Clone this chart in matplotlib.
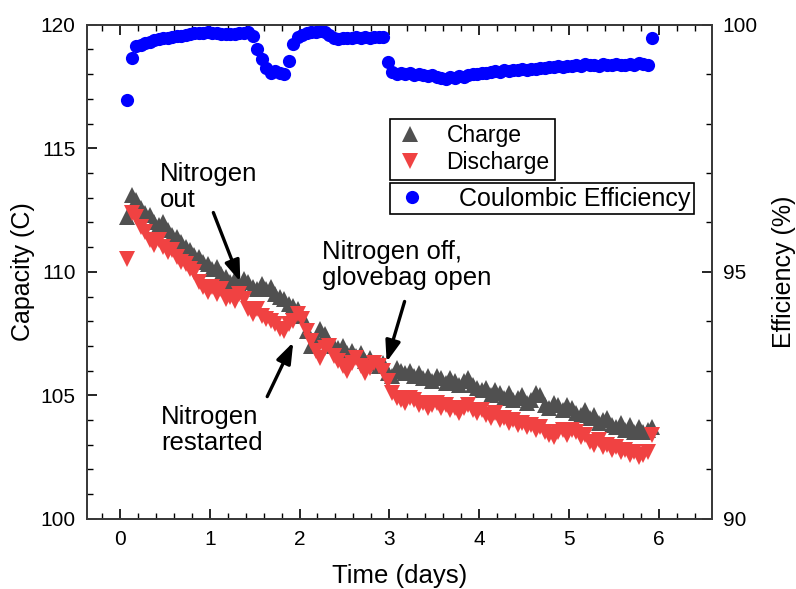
import matplotlib
matplotlib.use('Agg')
import matplotlib.pyplot as plt
from matplotlib.ticker import MultipleLocator

plt.rcParams['font.family'] = ['Liberation Sans', 'DejaVu Sans']

# ── Data ─────────────────────────────────────────────────────────────────────
days = [
    0.08, 0.13, 0.18, 0.23, 0.28, 0.33, 0.38, 0.43, 0.48, 0.53,
    0.58, 0.63, 0.68, 0.73, 0.78, 0.83, 0.88, 0.93, 0.98, 1.03,
    1.08, 1.13, 1.18, 1.23, 1.28, 1.33, 1.38, 1.43, 1.48, 1.53,
    1.58, 1.63, 1.68, 1.73, 1.78, 1.83, 1.88, 1.93, 1.98, 2.03,
    2.08, 2.13, 2.18, 2.23, 2.28, 2.33, 2.38, 2.43, 2.48, 2.53,
    2.58, 2.63, 2.68, 2.73, 2.78, 2.83, 2.88, 2.93, 2.98, 3.03,
    3.08, 3.13, 3.18, 3.23, 3.28, 3.33, 3.38, 3.43, 3.48, 3.53,
    3.58, 3.63, 3.68, 3.73, 3.78, 3.83, 3.88, 3.93, 3.98, 4.03,
    4.08, 4.13, 4.18, 4.23, 4.28, 4.33, 4.38, 4.43, 4.48, 4.53,
    4.58, 4.63, 4.68, 4.73, 4.78, 4.83, 4.88, 4.93, 4.98, 5.03,
    5.08, 5.13, 5.18, 5.23, 5.28, 5.33, 5.38, 5.43, 5.48, 5.53,
    5.58, 5.63, 5.68, 5.73, 5.78, 5.83, 5.88, 5.93,
]

charge = [
    112.2, 113.1, 112.9, 112.6, 112.4, 112.3, 112.0, 111.9, 112.0, 111.7,
    111.5, 111.4, 111.2, 111.0, 110.9, 110.7, 110.6, 110.4, 110.3, 110.1,
    110.2, 109.9, 109.8, 109.6, 109.7, 109.5, 109.7, 109.6, 109.4, 109.3,
    109.5, 109.3, 109.4, 109.1, 109.0, 108.9, 108.7, 108.6, 108.5, 108.2,
    107.6, 107.0, 107.3, 107.7, 107.5, 107.1, 107.0, 106.9, 107.0, 106.7,
    106.8, 106.6, 106.7, 106.4, 106.5, 106.3, 106.2, 106.3, 105.9, 105.8,
    106.1, 106.0, 105.9, 106.0, 105.8, 105.9, 105.7, 105.8, 105.6, 105.8,
    105.7, 105.5, 105.7, 105.6, 105.4, 105.6, 105.7, 105.4, 105.3, 105.2,
    105.3, 105.0, 105.2, 105.1, 104.9, 105.1, 104.8, 104.9, 105.0, 104.7,
    104.8, 105.1, 105.0, 104.6, 104.5, 104.7, 104.6, 104.4, 104.6, 104.5,
    104.3, 104.2, 104.4, 104.1, 104.2, 103.9, 104.0, 104.1, 103.8, 103.7,
    103.9, 103.6, 103.8, 103.5, 103.7, 103.5, 103.6, 103.7,
]

discharge = [
    110.5, 112.4, 112.2, 111.8, 111.6, 111.3, 111.1, 111.3, 111.0, 110.8,
    110.9, 110.6, 110.4, 110.3, 110.1, 110.0, 109.6, 109.4, 109.2, 109.4,
    109.1, 109.3, 108.9, 109.0, 108.8, 109.1, 108.9, 108.5, 108.3, 108.5,
    108.2, 108.1, 108.0, 107.9, 107.7, 107.6, 107.9, 108.0, 108.3, 108.1,
    107.6, 107.2, 106.8, 106.5, 106.9, 107.0, 106.6, 106.4, 106.2, 106.0,
    106.3, 106.5, 106.2, 105.9, 106.1, 106.3, 106.2, 106.0, 105.6, 105.1,
    104.9, 104.8, 104.7, 104.9, 104.8, 104.6, 104.7, 104.5, 104.6, 104.7,
    104.5, 104.6, 104.4, 104.5, 104.3, 104.5, 104.6, 104.4, 104.3, 104.4,
    104.2, 104.1, 104.3, 104.0, 104.1, 103.9, 104.0, 103.8, 103.9, 103.7,
    103.8, 103.6, 103.7, 103.5, 103.4, 103.3, 103.5, 103.6, 103.4, 103.6,
    103.5, 103.3, 103.4, 103.1, 103.0, 103.2, 102.9, 103.0, 102.8, 102.9,
    102.7, 102.8, 102.6, 102.7, 102.5, 102.6, 102.7, 103.4,
]

efficiency = [
    98.48, 99.33, 99.57, 99.60, 99.64, 99.66, 99.69, 99.71, 99.73, 99.74,
    99.76, 99.77, 99.78, 99.80, 99.81, 99.83, 99.84, 99.84, 99.85, 99.84,
    99.83, 99.82, 99.82, 99.81, 99.82, 99.84, 99.84, 99.85, 99.78, 99.50,
    99.30, 99.12, 99.03, 99.06, 99.03, 99.00, 99.26, 99.62, 99.76, 99.80,
    99.83, 99.85, 99.86, 99.87, 99.86, 99.80, 99.73, 99.72, 99.74, 99.73,
    99.74, 99.75, 99.74, 99.75, 99.74, 99.76, 99.75, 99.75, 99.24, 99.05,
    99.00, 99.03, 99.00, 99.02, 98.99, 99.01, 98.98, 98.97, 98.99, 98.95,
    98.93, 98.91, 98.94, 98.92, 98.96, 98.95, 98.98, 99.00, 99.01, 99.03,
    99.02, 99.05, 99.06, 99.04, 99.08, 99.07, 99.09, 99.08, 99.10, 99.09,
    99.11, 99.10, 99.13, 99.12, 99.15, 99.14, 99.16, 99.15, 99.17, 99.16,
    99.18, 99.17, 99.21, 99.18, 99.19, 99.17, 99.20, 99.19, 99.18, 99.20,
    99.19, 99.18, 99.20, 99.19, 99.22, 99.20, 99.19, 99.74,
]

# annotation text, text anchor (x, y) and arrow (tail, tip) in data units
notes = [
    ('Nitrogen\nout', (0.44, 114.45), (1.04, 112.4), (1.34, 109.6)),
    ('Nitrogen off,\nglovebag open', (2.25, 111.3), (3.17, 108.8), (2.97, 106.35)),
    ('Nitrogen\nrestarted', (0.46, 104.6), (1.64, 104.95), (1.93, 107.15)),
]

GRAY = '#505050'
RED = '#f04242'
BLUE = '#0000ff'

fig = plt.figure(figsize=(7.96, 5.89), dpi=100)
ax = fig.add_axes([0.109, 0.119, 0.785, 0.839])
ax2 = ax.twinx()

h_c, = ax.plot(days, charge, ls='none', marker='^', ms=11, mew=0,
               color=GRAY, label='Charge')
h_d, = ax.plot(days, discharge, ls='none', marker='v', ms=11, mew=0,
               color=RED, label='Discharge')
h_e, = ax2.plot(days, efficiency, ls='none', marker='o', ms=9.5, mew=0,
                color=BLUE, label='Coulombic Efficiency')

ax.set_xlim(-0.37, 6.59)
ax.set_ylim(100, 120)
ax2.set_ylim(90, 100)

ax.xaxis.set_major_locator(MultipleLocator(1))
ax.xaxis.set_minor_locator(MultipleLocator(0.2))
ax.yaxis.set_major_locator(MultipleLocator(5))
ax.yaxis.set_minor_locator(MultipleLocator(1))
ax2.yaxis.set_major_locator(MultipleLocator(5))
ax2.yaxis.set_minor_locator(MultipleLocator(1))

ax.tick_params(axis='x', which='both', direction='in', top=True)
ax.tick_params(axis='y', which='both', direction='in', right=False)
ax2.tick_params(axis='y', which='both', direction='in')
for a in (ax, ax2):
    a.tick_params(which='major', length=7, width=1.2, labelsize=15, pad=8)
    a.tick_params(which='minor', length=4, width=1.0)
    for s in a.spines.values():
        s.set_color('#3a3a3a')
        s.set_linewidth(1.3)

ax.set_xlabel('Time (days)', fontsize=18.5, labelpad=11)
ax.set_ylabel('Capacity (C)', fontsize=18, labelpad=4)
ax2.set_ylabel('Efficiency (%)', fontsize=18, labelpad=10)

for text, (tx, ty), tail, tip in notes:
    ax.text(tx, ty, text, fontsize=18.5, ha='left', va='top', linespacing=1.1)
    ax.annotate('', xy=tip, xytext=tail,
                arrowprops=dict(arrowstyle='-|>,head_length=0.7,head_width=0.25',
                                mutation_scale=18, lw=2.4, color='black',
                                shrinkA=0, shrinkB=0))

leg1 = ax.legend(handles=[h_c, h_d], loc='upper left',
                 bbox_to_anchor=(0.486, 0.81), borderaxespad=0,
                 fancybox=False, edgecolor='black', framealpha=1,
                 fontsize=16.5, handlelength=1.2, handletextpad=1.0,
                 borderpad=0.25, labelspacing=0.15)
leg1.get_frame().set_linewidth(1.2)
leg2 = ax2.legend(handles=[h_e], loc='upper left',
                  bbox_to_anchor=(0.486, 0.68), borderaxespad=0,
                  fancybox=False, edgecolor='black', framealpha=1,
                  fontsize=18, handlelength=1.4, handletextpad=1.2,
                  borderpad=0.15)
leg2.get_frame().set_linewidth(1.2)

fig.savefig('out.png', dpi=100)
